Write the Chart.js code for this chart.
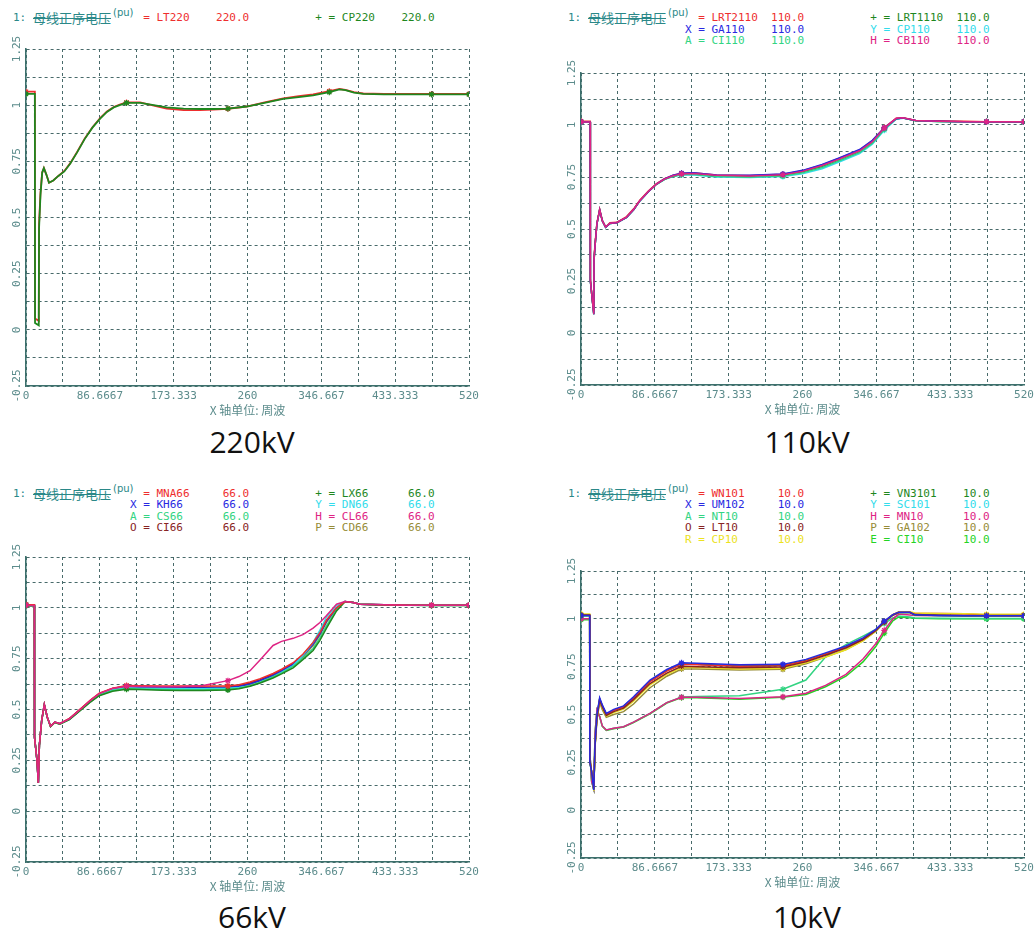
<!DOCTYPE html>
<html>
<head>
<meta charset="utf-8">
<script src="https://cdn.jsdelivr.net/npm/chart.js@4.4.1/dist/chart.umd.min.js"></script>
<style>
  body { margin: 0; background: #fff; width: 1034px; height: 933px; position: relative; overflow: hidden; }
  canvas { position: absolute; }
  .t { position: absolute; white-space: pre; font: 11px "DejaVu Sans Mono", monospace; line-height: 14px; }
  .cjk { font: 13px "Noto Sans CJK SC", sans-serif; line-height: 14px; text-decoration: line-through; text-decoration-thickness: 1.2px; }
  .pu { font: 10px "DejaVu Sans", sans-serif; line-height: 10px; }
  .cap { position: absolute; font: 30px "Open Sans", sans-serif; color: #111; transform: translate(-50%, -50%); white-space: nowrap; }
</style>
</head>
<body>
<script>
// 横轴（周波）与纵轴（pu）刻度
const xTickValues = [0, 86.6667, 173.333, 260, 346.667, 433.333, 520];
const xTickLabels = ['0', '86.6667', '173.333', '260', '346.667', '433.333', '520'];
const yTickValues = [-0.25, 0, 0.25, 0.5, 0.75, 1, 1.25];
const yTickLabels = ['-0.25', '0', '0.25', '0.5', '0.75', '1', '1.25'];
const markerX = [0, 118, 237, 356, 476, 520];

// 220kV
const x220 = [0, 10.4, 10.6, 15, 15.3, 17, 19, 21, 24, 27, 32, 38, 45, 52, 60, 69, 78, 87, 95, 103,
  110, 118, 134, 150, 165, 185, 204, 220, 237, 259, 280, 302, 320, 337, 356, 368, 375, 385, 396, 420,
  450, 476, 500, 520];
const LT220 = [1.06, 1.06, 0.05, 0.04, 0.47, 0.61, 0.70, 0.72, 0.69, 0.655, 0.665, 0.685, 0.707, 0.742, 0.792, 0.852, 0.902, 0.942, 0.972, 0.992,
  1.003, 1.012, 1.012, 0.998, 0.985, 0.978, 0.978, 0.98, 0.984, 0.994, 1.012, 1.03, 1.04, 1.048, 1.062, 1.072, 1.068, 1.058, 1.052, 1.05,
  1.05, 1.05, 1.05, 1.05];
const CP220 = [1.05, 1.05, 0.03, 0.02, 0.45, 0.60, 0.70, 0.72, 0.69, 0.655, 0.665, 0.685, 0.705, 0.74, 0.79, 0.85, 0.90, 0.94, 0.97, 0.99,
  1.0, 1.01, 1.01, 1.0, 0.99, 0.985, 0.983, 0.983, 0.985, 0.994, 1.01, 1.028, 1.036, 1.044, 1.058, 1.07, 1.067, 1.056, 1.05, 1.048,
  1.048, 1.048, 1.048, 1.048];

// 110kV
const x110 = [0, 10.8, 11, 13, 15, 15.3, 16.5, 18.7, 21.9, 25, 28.9, 34, 42, 53.5, 62, 69, 79, 88.6, 98, 108,
  118, 132, 159, 198, 237, 260, 283, 303, 327, 342, 356, 370, 378, 393, 420, 450, 476, 500, 520];
const LRT2110 = [1.018, 1.018, 0.26, 0.17, 0.1, 0.36, 0.43, 0.53, 0.595, 0.54, 0.51, 0.53, 0.532, 0.56, 0.598, 0.638, 0.682, 0.718, 0.742, 0.758,
  0.768, 0.77, 0.76, 0.757, 0.763, 0.78, 0.808, 0.84, 0.88, 0.925, 0.988, 1.032, 1.035, 1.022, 1.02, 1.018, 1.016, 1.016, 1.016];
const LRT1110 = [1.015, 1.015, 0.25, 0.17, 0.09, 0.35, 0.42, 0.525, 0.592, 0.54, 0.508, 0.527, 0.53, 0.556, 0.594, 0.635, 0.679, 0.715, 0.739, 0.754,
  0.763, 0.765, 0.755, 0.752, 0.758, 0.774, 0.8, 0.83, 0.87, 0.915, 0.982, 1.03, 1.034, 1.021, 1.017, 1.016, 1.016, 1.016, 1.016];
const GA110 = [1.015, 1.015, 0.25, 0.17, 0.09, 0.35, 0.42, 0.525, 0.592, 0.54, 0.508, 0.527, 0.53, 0.556, 0.594, 0.635, 0.679, 0.716, 0.741, 0.758,
  0.768, 0.77, 0.76, 0.758, 0.764, 0.782, 0.81, 0.842, 0.882, 0.926, 0.986, 1.03, 1.034, 1.022, 1.018, 1.016, 1.016, 1.016, 1.016];
const CP110 = [1.015, 1.015, 0.25, 0.17, 0.09, 0.35, 0.42, 0.525, 0.592, 0.54, 0.508, 0.527, 0.53, 0.556, 0.594, 0.635, 0.679, 0.715, 0.738, 0.752,
  0.76, 0.76, 0.75, 0.748, 0.752, 0.765, 0.79, 0.822, 0.862, 0.908, 0.975, 1.028, 1.033, 1.021, 1.017, 1.016, 1.016, 1.016, 1.016];
const CI110 = [1.015, 1.015, 0.25, 0.17, 0.09, 0.35, 0.42, 0.525, 0.592, 0.54, 0.508, 0.527, 0.53, 0.556, 0.594, 0.635, 0.679, 0.715, 0.739, 0.754,
  0.762, 0.763, 0.753, 0.75, 0.755, 0.77, 0.796, 0.828, 0.868, 0.912, 0.98, 1.03, 1.034, 1.021, 1.017, 1.016, 1.016, 1.016, 1.016];
const CB110 = [1.015, 1.015, 0.25, 0.17, 0.09, 0.35, 0.42, 0.525, 0.593, 0.54, 0.509, 0.528, 0.53, 0.557, 0.595, 0.636, 0.68, 0.716, 0.74, 0.756,
  0.765, 0.767, 0.758, 0.755, 0.761, 0.777, 0.805, 0.836, 0.876, 0.92, 0.985, 1.032, 1.035, 1.022, 1.018, 1.016, 1.016, 1.016, 1.016];

// 66kV
const x66 = [0, 9.8, 10, 12.9, 14.5, 15.7, 18.4, 21.5, 25, 28.8, 33.8, 39.6, 51, 66.7, 76, 86, 101.6, 118, 132.6, 160,
  180, 208, 237, 250, 263, 275, 290, 300, 313.6, 325, 337, 345, 352.8, 364.5, 374.4, 384, 392, 420, 450, 476,
  500, 520];
const MNA66 = [1.015, 1.015, 0.364, 0.25, 0.139, 0.324, 0.446, 0.524, 0.462, 0.418, 0.438, 0.43, 0.456, 0.513, 0.548, 0.58, 0.605, 0.618, 0.617, 0.615,
  0.615, 0.615, 0.616, 0.622, 0.635, 0.652, 0.677, 0.698, 0.73, 0.772, 0.83, 0.878, 0.94, 1.0, 1.031, 1.026, 1.018, 1.015, 1.013, 1.013,
  1.013, 1.013];
const LX66 = [1.01, 1.01, 0.364, 0.25, 0.139, 0.324, 0.446, 0.522, 0.46, 0.416, 0.436, 0.428, 0.45, 0.505, 0.538, 0.568, 0.59, 0.6, 0.598, 0.595,
  0.594, 0.594, 0.596, 0.602, 0.614, 0.63, 0.655, 0.675, 0.705, 0.745, 0.79, 0.84, 0.9, 0.985, 1.03, 1.026, 1.018, 1.014, 1.013, 1.012,
  1.012, 1.012];
const KH66 = [1.012, 1.012, 0.364, 0.25, 0.139, 0.324, 0.446, 0.524, 0.462, 0.418, 0.438, 0.43, 0.454, 0.51, 0.544, 0.575, 0.6, 0.612, 0.61, 0.607,
  0.606, 0.606, 0.607, 0.613, 0.626, 0.643, 0.668, 0.69, 0.722, 0.765, 0.822, 0.872, 0.935, 0.998, 1.031, 1.026, 1.018, 1.015, 1.013, 1.013,
  1.013, 1.013];
const DN66 = [1.012, 1.012, 0.364, 0.25, 0.139, 0.324, 0.446, 0.523, 0.461, 0.417, 0.437, 0.429, 0.452, 0.508, 0.541, 0.572, 0.597, 0.607, 0.605, 0.603,
  0.602, 0.602, 0.604, 0.608, 0.616, 0.634, 0.66, 0.682, 0.716, 0.765, 0.83, 0.89, 0.955, 1.01, 1.031, 1.026, 1.018, 1.015, 1.013, 1.013,
  1.013, 1.013];
const CS66 = [1.01, 1.01, 0.364, 0.25, 0.139, 0.324, 0.446, 0.522, 0.46, 0.416, 0.436, 0.428, 0.451, 0.506, 0.539, 0.57, 0.593, 0.603, 0.601, 0.598,
  0.597, 0.597, 0.599, 0.605, 0.617, 0.634, 0.66, 0.68, 0.712, 0.752, 0.8, 0.852, 0.912, 0.99, 1.03, 1.026, 1.018, 1.014, 1.013, 1.012,
  1.012, 1.012];
const CL66 = [1.012, 1.012, 0.364, 0.25, 0.139, 0.324, 0.446, 0.524, 0.462, 0.418, 0.438, 0.43, 0.454, 0.511, 0.546, 0.578, 0.603, 0.614, 0.613, 0.612,
  0.612, 0.618, 0.642, 0.662, 0.691, 0.745, 0.815, 0.835, 0.85, 0.868, 0.9, 0.928, 0.962, 1.018, 1.031, 1.026, 1.018, 1.015, 1.013, 1.013,
  1.013, 1.013];
const CI66 = [1.015, 1.015, 0.364, 0.25, 0.139, 0.324, 0.446, 0.524, 0.462, 0.418, 0.438, 0.43, 0.455, 0.512, 0.546, 0.578, 0.603, 0.615, 0.614, 0.611,
  0.61, 0.61, 0.611, 0.617, 0.63, 0.647, 0.672, 0.694, 0.726, 0.768, 0.826, 0.875, 0.938, 0.999, 1.031, 1.026, 1.018, 1.015, 1.013, 1.013,
  1.013, 1.013];
const CD66 = [1.015, 1.015, 0.364, 0.25, 0.139, 0.324, 0.446, 0.524, 0.462, 0.418, 0.438, 0.43, 0.453, 0.509, 0.543, 0.574, 0.598, 0.609, 0.607, 0.604,
  0.603, 0.603, 0.604, 0.61, 0.622, 0.64, 0.664, 0.686, 0.718, 0.76, 0.815, 0.866, 0.93, 0.995, 1.031, 1.026, 1.018, 1.015, 1.013, 1.013,
  1.013, 1.013];

// 10kV
const x10 = [0, 10.2, 10.4, 12.5, 15, 16.5, 18.7, 21.9, 25, 29.7, 38.4, 50, 61.7, 81, 100.7, 118, 136, 186, 237, 264,
  287, 311, 331, 346, 356, 366, 373, 386, 392, 420, 450, 476, 500, 520];
const WN101 = [1.02, 1.02, 0.26, 0.2, 0.11, 0.34, 0.49, 0.58, 0.545, 0.5, 0.522, 0.54, 0.586, 0.672, 0.727, 0.762, 0.76, 0.752, 0.755, 0.78,
  0.815, 0.85, 0.893, 0.94, 0.985, 1.02, 1.033, 1.033, 1.028, 1.028, 1.026, 1.02, 1.018, 1.018];
const VN3101 = [1.016, 1.016, 0.25, 0.2, 0.105, 0.34, 0.49, 0.582, 0.546, 0.502, 0.523, 0.541, 0.588, 0.674, 0.729, 0.764, 0.762, 0.754, 0.757, 0.782,
  0.816, 0.852, 0.895, 0.94, 0.985, 1.02, 1.033, 1.033, 1.02, 1.017, 1.016, 1.016, 1.016, 1.016];
const UM102 = [1.018, 1.018, 0.25, 0.2, 0.105, 0.35, 0.5, 0.588, 0.55, 0.506, 0.527, 0.545, 0.593, 0.68, 0.735, 0.77, 0.768, 0.76, 0.762, 0.788,
  0.822, 0.858, 0.9, 0.945, 0.988, 1.022, 1.035, 1.035, 1.021, 1.018, 1.016, 1.016, 1.016, 1.016];
const SC101 = [1.016, 1.016, 0.25, 0.2, 0.105, 0.34, 0.49, 0.582, 0.546, 0.502, 0.523, 0.541, 0.588, 0.674, 0.729, 0.764, 0.762, 0.754, 0.756, 0.78,
  0.813, 0.848, 0.89, 0.936, 0.982, 1.018, 1.032, 1.032, 1.02, 1.017, 1.016, 1.016, 1.016, 1.016];
const NT10 = [1.0, 1.0, 0.3, 0.15, 0.11, 0.4, 0.524, 0.49, 0.44, 0.419, 0.428, 0.436, 0.46, 0.506, 0.562, 0.592, 0.594, 0.598, 0.632, 0.68,
  0.8, 0.865, 0.91, 0.945, 0.975, 1.005, 1.015, 1.01, 1.005, 1.003, 1.002, 1.002, 1.002, 1.002];
const MN10 = [1.0, 1.0, 0.3, 0.15, 0.11, 0.4, 0.524, 0.49, 0.44, 0.419, 0.428, 0.436, 0.46, 0.506, 0.562, 0.59, 0.59, 0.583, 0.593, 0.611,
  0.652, 0.71, 0.79, 0.87, 0.94, 1.0, 1.025, 1.02, 1.018, 1.016, 1.016, 1.016, 1.016, 1.016];
const LT10 = [1.02, 1.02, 0.26, 0.2, 0.11, 0.34, 0.48, 0.575, 0.54, 0.495, 0.515, 0.533, 0.578, 0.662, 0.716, 0.752, 0.75, 0.744, 0.748, 0.775,
  0.81, 0.848, 0.892, 0.938, 0.984, 1.02, 1.034, 1.034, 1.022, 1.019, 1.017, 1.017, 1.017, 1.017];
const GA102 = [1.02, 1.02, 0.26, 0.2, 0.11, 0.33, 0.47, 0.565, 0.525, 0.485, 0.5, 0.515, 0.555, 0.64, 0.7, 0.738, 0.738, 0.732, 0.736, 0.765,
  0.8, 0.84, 0.886, 0.935, 0.982, 1.02, 1.035, 1.035, 1.024, 1.02, 1.018, 1.018, 1.018, 1.018];
const CP10 = [1.025, 1.025, 0.26, 0.2, 0.1, 0.34, 0.48, 0.575, 0.535, 0.492, 0.51, 0.528, 0.57, 0.655, 0.71, 0.745, 0.745, 0.738, 0.742, 0.77,
  0.8, 0.838, 0.885, 0.935, 0.985, 1.022, 1.037, 1.037, 1.03, 1.028, 1.026, 1.024, 1.024, 1.024];
const CI10 = [0.995, 0.995, 0.3, 0.15, 0.11, 0.4, 0.522, 0.488, 0.438, 0.417, 0.426, 0.434, 0.458, 0.504, 0.56, 0.588, 0.588, 0.58, 0.59, 0.605,
  0.645, 0.7, 0.775, 0.855, 0.925, 0.99, 1.01, 1.005, 1.003, 1.0, 1.0, 1.0, 1.0, 1.0];

const COL = {
  red: 'rgb(238,46,46)', green: 'rgb(30,135,30)', blue: 'rgb(40,40,225)', cyan: 'rgb(50,220,235)',
  mint: 'rgb(50,212,130)', pink: 'rgb(222,36,132)', brown: 'rgb(135,35,35)', olive: 'rgb(150,140,55)',
  yellow: 'rgb(236,226,30)', lime: 'rgb(36,212,36)'
};
const TEAL = 'rgb(42,136,136)';
const AXIS_TEXT = 'rgb(92,140,140)';
const GRID = 'rgb(72,106,106)';
const AXIS_LINE = 'rgb(60,112,108)';

// 各面板：位置与曲线（sym 为图例符号，order 越小越靠上）
const panels = [
  { left: 0, plotTop: 48.5, plotBottom: 385.5, hdrY: 18, valCol: 13, caption: '220kV', capY: 441, xs: x220, lw: 1.8,
    series: [
      { sym: ' ', name: 'LT220', val: '220.0', color: COL.red, y: LT220, order: 2 },
      { sym: '+', name: 'CP220', val: '220.0', color: COL.green, y: CP220, order: 1 }
    ] },
  { left: 555, plotTop: 72.5, plotBottom: 384.5, hdrY: 18, valCol: 13, caption: '110kV', capY: 441, xs: x110, lw: 1.5,
    series: [
      { sym: ' ', name: 'LRT2110', val: '110.0', color: COL.red, y: LRT2110, order: 3 },
      { sym: '+', name: 'LRT1110', val: '110.0', color: COL.green, y: LRT1110, order: 5 },
      { sym: 'X', name: 'GA110', val: '110.0', color: COL.blue, y: GA110, order: 2 },
      { sym: 'Y', name: 'CP110', val: '110.0', color: COL.cyan, y: CP110, order: 6 },
      { sym: 'A', name: 'CI110', val: '110.0', color: COL.mint, y: CI110, order: 4 },
      { sym: 'H', name: 'CB110', val: '110.0', color: COL.pink, y: CB110, order: 1 }
    ] },
  { left: 0, plotTop: 557, plotBottom: 862, hdrY: 493.5, valCol: 14, caption: '66kV', capY: 916, xs: x66, lw: 1.5,
    series: [
      { sym: ' ', name: 'MNA66', val: '66.0', color: COL.red, y: MNA66, order: 2 },
      { sym: '+', name: 'LX66', val: '66.0', color: COL.green, y: LX66, order: 3 },
      { sym: 'X', name: 'KH66', val: '66.0', color: COL.blue, y: KH66, order: 6 },
      { sym: 'Y', name: 'DN66', val: '66.0', color: COL.cyan, y: DN66, order: 5 },
      { sym: 'A', name: 'CS66', val: '66.0', color: COL.mint, y: CS66, order: 4 },
      { sym: 'H', name: 'CL66', val: '66.0', color: COL.pink, y: CL66, order: 1 },
      { sym: 'O', name: 'CI66', val: '66.0', color: COL.brown, y: CI66, order: 7 },
      { sym: 'P', name: 'CD66', val: '66.0', color: COL.olive, y: CD66, order: 8 }
    ] },
  { left: 555, plotTop: 571, plotBottom: 858, hdrY: 493.5, valCol: 14, caption: '10kV', capY: 916, xs: x10, lw: 1.5,
    series: [
      { sym: ' ', name: 'WN101', val: '10.0', color: COL.red, y: WN101, order: 4 },
      { sym: '+', name: 'VN3101', val: '10.0', color: COL.green, y: VN3101, order: 5 },
      { sym: 'X', name: 'UM102', val: '10.0', color: COL.blue, y: UM102, order: 1 },
      { sym: 'Y', name: 'SC101', val: '10.0', color: COL.cyan, y: SC101, order: 7 },
      { sym: 'A', name: 'NT10', val: '10.0', color: COL.mint, y: NT10, order: 9 },
      { sym: 'H', name: 'MN10', val: '10.0', color: COL.pink, y: MN10, order: 8 },
      { sym: 'O', name: 'LT10', val: '10.0', color: COL.brown, y: LT10, order: 2 },
      { sym: 'P', name: 'GA102', val: '10.0', color: COL.olive, y: GA102, order: 6 },
      { sym: 'R', name: 'CP10', val: '10.0', color: COL.yellow, y: CP10, order: 3 },
      { sym: 'E', name: 'CI10', val: '10.0', color: COL.lime, y: CI10, order: 10 }
    ] }
];

// 网格：横向每 520/12 周波，纵向每 0.125 pu
const xGrid = [];
for (let i = 0; i <= 12; i++) xGrid.push(i * 520 / 12);
const yGrid = [];
for (let i = 0; i <= 12; i++) yGrid.push(-0.25 + i * 0.125);

const CW = 6.62; // 等宽字体 11px 的字宽

function addText(txt, x, y, color, cls) {
  const el = document.createElement('div');
  el.className = 't' + (cls ? ' ' + cls : '');
  el.textContent = txt;
  el.style.left = x + 'px';
  el.style.top = (y - 7) + 'px';
  el.style.color = color;
  document.body.appendChild(el);
  return el;
}

function drawHeader(p) {
  const b = p.left;
  addText('1:', b + 13, p.hdrY, TEAL);
  addText('母线正序电压', b + 33, p.hdrY, TEAL, 'cjk');
  addText('(pu)', b + 113, p.hdrY - 3, TEAL, 'pu');
  p.series.forEach((s, i) => {
    const row = Math.floor(i / 2), col = i % 2;
    const y = p.hdrY + row * 11.6;
    const x = b + 130 + col * 28 * CW;
    addText(s.sym + ' = ' + s.name, x, y, s.color);
    addText(s.val, x + p.valCol * CW, y, s.color);
  });
  const cap = document.createElement('div');
  cap.className = 'cap';
  cap.textContent = p.caption;
  cap.style.left = (b + 252) + 'px';
  cap.style.top = p.capY + 'px';
  document.body.appendChild(cap);
}

// 纵轴刻度文字竖排
const yLabelPlugin = {
  id: 'yLabels',
  afterDraw(chart) {
    const { ctx, chartArea, scales } = chart;
    ctx.save();
    ctx.font = '11px "DejaVu Sans Mono"';
    ctx.fillStyle = AXIS_TEXT;
    ctx.textAlign = 'center';
    ctx.textBaseline = 'middle';
    yTickValues.forEach((v, i) => {
      const py = scales.y.getPixelForValue(v);
      ctx.save();
      ctx.translate(chartArea.left - 9, py);
      ctx.rotate(-Math.PI / 2);
      ctx.fillText(yTickLabels[i], 0, 0);
      ctx.restore();
    });
    ctx.restore();
  }
};

function drawPanel(p) {
  const top = p.plotTop - 16;
  const H = p.plotBottom + 32 - top;
  const cv = document.createElement('canvas');
  cv.width = 480;
  cv.height = H;
  cv.style.left = p.left + 'px';
  cv.style.top = top + 'px';
  document.body.appendChild(cv);

  const xAxisH = H - (p.plotBottom - top);

  new Chart(cv.getContext('2d'), {
    type: 'line',
    data: {
      datasets: p.series.map(s => ({
        label: s.name,
        data: p.xs.map((x, i) => ({ x: x, y: s.y[i] })),
        borderColor: s.color,
        backgroundColor: s.color,
        borderWidth: p.lw,
        tension: 0,
        order: s.order,
        pointStyle: 'star',
        pointBorderWidth: 1.2,
        pointRadius: ctx => markerX.includes(p.xs[ctx.dataIndex]) ? 3 : 0,
        pointHoverRadius: 0
      }))
    },
    options: {
      responsive: false,
      animation: false,
      events: [],
      layout: { padding: { left: 0, right: 11, top: 16, bottom: 0 } },
      plugins: { legend: { display: false }, tooltip: { enabled: false } },
      scales: {
        x: {
          type: 'linear',
          min: 0,
          max: 520,
          afterBuildTicks: sc => { sc.ticks = xGrid.map(v => ({ value: v })); },
          afterFit: sc => { sc.height = xAxisH; sc.paddingLeft = 0; sc.paddingRight = 0; },
          grid: { color: GRID, lineWidth: 1, drawTicks: false },
          border: { display: true, color: AXIS_LINE, width: 1.6, dash: [3, 3] },
          ticks: {
            autoSkip: false,
            maxRotation: 0,
            minRotation: 0,
            padding: 4,
            color: AXIS_TEXT,
            font: { family: 'DejaVu Sans Mono', size: 11 },
            callback: v => {
              const i = xTickValues.findIndex(t => Math.abs(t - v) < 0.01);
              return i < 0 ? '' : xTickLabels[i];
            }
          },
          title: {
            display: true,
            text: 'X 轴单位: 周波',
            color: AXIS_TEXT,
            font: { family: 'Noto Sans CJK SC', size: 12 },
            padding: 0
          }
        },
        y: {
          type: 'linear',
          min: -0.25,
          max: 1.25,
          afterBuildTicks: sc => { sc.ticks = yGrid.map(v => ({ value: v })); },
          afterFit: sc => { sc.width = 26; },
          grid: { color: GRID, lineWidth: 1, drawTicks: false },
          border: { display: true, color: AXIS_LINE, width: 1.6, dash: [3, 3] },
          ticks: { display: false }
        }
      }
    },
    plugins: [yLabelPlugin]
  });
}

panels.forEach(p => {
  drawHeader(p);
  drawPanel(p);
});
</script>
</body>
</html>
